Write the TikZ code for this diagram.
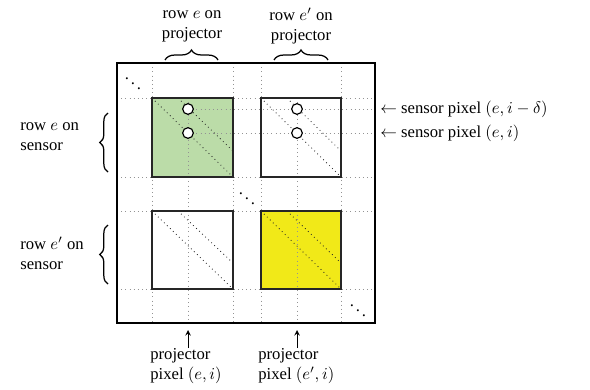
\documentclass[tikz,border=0pt]{standalone}
\usepackage{fontspec}
\setmainfont{Liberation Serif}
\usetikzlibrary{decorations.pathreplacing,positioning}
\definecolor{sensorgreen}{RGB}{187,220,168}
\definecolor{projyellow}{RGB}{241,233,24}

\begin{document}
\begin{tikzpicture}[x=0.6pt, y=-0.6pt,
    font=\fontsize{10}{12}\selectfont,
    grid/.style={draw=gray!85, dotted, line width=.5pt},
    diag/.style={draw=black!85, dotted, line width=.5pt},
    block/.style={draw=black!85, line width=1pt},
    pix/.style={circle, draw=black, fill=white, line width=.7pt, inner sep=0pt, minimum size=6.4pt},
    lbl/.style={align=left, inner sep=0pt},
    cbrace/.style={decorate, decoration={brace, amplitude=#1}, line width=.75pt},
    pointer/.style={->, >=stealth, line width=.5pt}
]
    \useasboundingbox (0,0) rectangle (590,389);

    % fills of the two highlighted blocks
    \fill[sensorgreen] (152,98) rectangle (233,177);
    \fill[projyellow] (261,211) rectangle (341,289);

    % dotted grid
    \foreach \gx in {152,233,261,341}
        \draw[grid] (\gx,63) -- (\gx,323);
    \foreach \gy in {98,177,211,289}
        \draw[grid] (117,\gy) -- (375,\gy);
    \foreach \gx in {188,297}
        \draw[grid] (\gx,98) -- (\gx,323);
    \foreach \gy in {109,133}
        \draw[grid] (188,\gy) -- (375,\gy);

    % blocks with their two diagonals
    \foreach \ax/\ay/\bx/\by in {152/98/233/177, 261/98/341/177, 152/211/233/289, 261/211/341/289} {
        \draw[diag] (\ax,\ay) -- (\bx,\by);
        \draw[diag] (\ax+26,\ay) -- (\bx,\by-26);
        \draw[block] (\ax,\ay) rectangle (\bx,\by);
    }

    \draw[line width=1pt] (117,63) rectangle (375,323);

    % sensor pixels
    \node[pix] (pa) at (188,109) {};
    \node[pix] (pb) at (188,133) {};
    \node[pix] (pc) at (297,109) {};
    \node[pix] (pd) at (297,133) {};

    \node (dd1) at (133,79) {$\ddots$};
    \node (dd2) at (247,194) {$\ddots$};
    \node (dd3) at (358,306) {$\ddots$};

    % projector rows
    \node[lbl, align=center] (prow1) at (192,26) {row $e$ on\\projector};
    \node[lbl, align=center] (prow2) at (301,26) {row $e'$ on\\projector};
    \draw[cbrace=6pt] (165,60) -- (218,60);
    \draw[cbrace=6pt] (274,60) -- (328,60);

    % sensor rows
    \node[lbl, anchor=west] (srow1) at (20,137) {row $e$ on\\sensor};
    \node[lbl, anchor=west] (srow2) at (20,253) {row $e'$ on\\sensor};
    \draw[cbrace=5pt] (108,172) -- (108,113);
    \draw[cbrace=5pt] (108,284) -- (108,225);

    % sensor pixel labels
    \node[lbl, anchor=west] (spix1) at (380,109) {$\leftarrow$ sensor pixel $(e,i-\delta)$};
    \node[lbl, anchor=west] (spix2) at (380,133) {$\leftarrow$ sensor pixel $(e,i)$};

    % projector pixel labels
    \node[lbl, anchor=north west] (ppix1) at (150,348) {projector\\pixel $(e,i)$};
    \node[lbl, anchor=north west] (ppix2) at (258,348) {projector\\pixel $(e',i)$};
    \coordinate (f1) at (188,330);
    \coordinate (f2) at (297,330);
    \draw[pointer] (ppix1.north west -| f1) -- (f1);
    \draw[pointer] (ppix2.north west -| f2) -- (f2);
\end{tikzpicture}
\end{document}
